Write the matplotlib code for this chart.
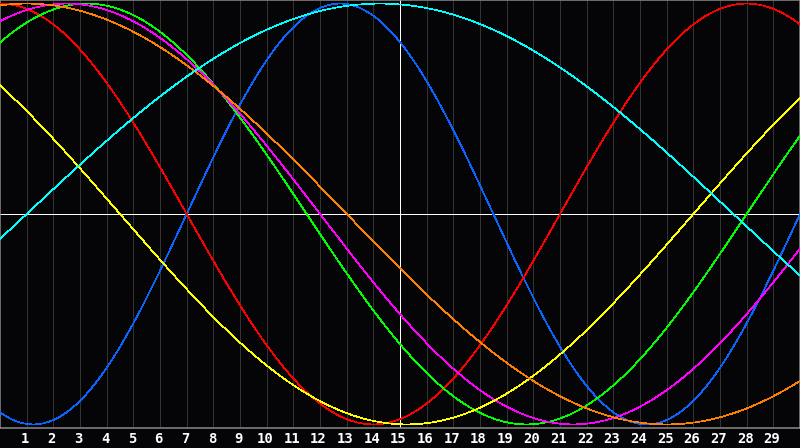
import numpy as np
import matplotlib
matplotlib.use("Agg")
import matplotlib.pyplot as plt
from matplotlib import transforms

# cycle lengths (days) and the day where each cycle crosses zero going up
names = ["physical", "emotional", "intellectual", "intuitive",
         "aesthetic", "awareness", "spiritual"]
periods = [23, 28, 33, 38, 43, 48, 53]
rise_day = [7.0, 21.0, 28.0, 31.0, 26.0, 37.0, 1.0]
colors = ["#0a64ff", "#ff0000", "#00ff00", "#ff00ff",
          "#ffff00", "#ff8000", "#00ffff"]

day_labels = [str(d) for d in range(1, 30)]
n_days = 30
today = 15

bg = "#050508"
px = 72 / 100.0  # one pixel in points at dpi 100

fig = plt.figure(figsize=(8, 4.48), dpi=100, facecolor=bg)
ax = fig.add_axes([0.0, 20 / 448, 1.0, 428 / 448])
ax.set_facecolor(bg)

t = np.linspace(0, n_days, 1201)
for p, r, c, nm in zip(periods, rise_day, colors, names):
    ax.plot(t, np.sin(2 * np.pi * (t - r) / p), color=c, lw=0.5,
            antialiased=False, label=nm, zorder=3)

# day grid
for d in range(1, n_days):
    ax.axvline(d, color="#333333", lw=0.5, antialiased=False, zorder=1)
ax.axvline(today, color="white", lw=0.5, antialiased=False, zorder=2)
ax.axhline(0, color="white", lw=0.5, antialiased=False, zorder=2)

ax.set_xlim(0, n_days)
ax.set_ylim(-1.017, 1.017)
ax.set_yticks([])
ax.set_xticks(range(1, n_days))
ax.set_xticklabels(day_labels, color="white", fontsize=10,
                   fontweight="bold", family="DejaVu Sans Mono")
ax.tick_params(axis="x", length=0, pad=3)
# shift labels a little to the left like the original
shift = transforms.ScaledTranslation(-1.5 / 100.0, 0, fig.dpi_scale_trans)
for lab in ax.get_xticklabels():
    lab.set_transform(lab.get_transform() + shift)

for s in ax.spines.values():
    s.set_color("#8c8c8c")
    s.set_linewidth(px * 1.5)

fig.savefig("out.png", dpi=100, facecolor=bg)
